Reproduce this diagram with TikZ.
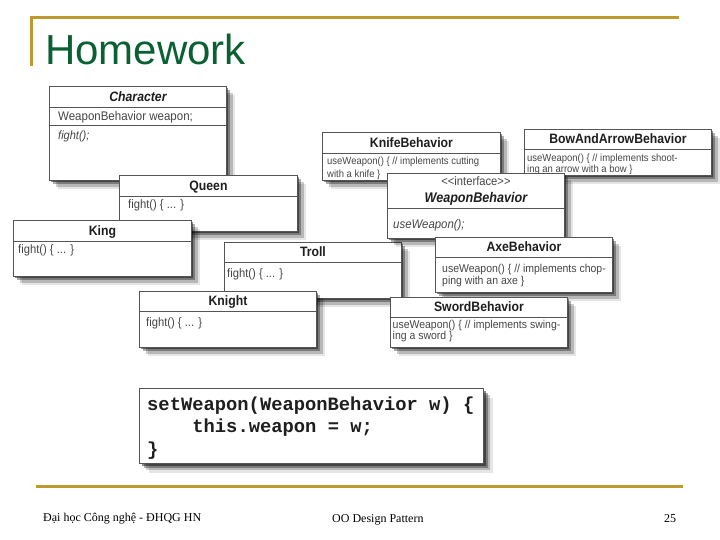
\documentclass[tikz,border=0pt]{standalone}
\usepackage{fontspec}
\setmainfont{Liberation Serif}
\newfontfamily\sansf{Liberation Sans}
\newfontfamily\umlf[FakeStretch=0.92]{Liberation Sans}
\newfontfamily\umlh[FakeStretch=0.9]{Liberation Sans}
\newfontfamily\codef{Liberation Mono}
\usetikzlibrary{shadows}
\definecolor{gold}{RGB}{190,154,46}
\definecolor{titlegreen}{RGB}{10,96,50}
\definecolor{umlborder}{RGB}{85,85,85}
\definecolor{umltext}{RGB}{30,30,30}
\definecolor{umlbody}{RGB}{70,70,70}
\tikzset{
  softshadow/.style={
    drop shadow={shadow xshift=2pt,shadow yshift=-2pt,opacity=.45,fill=black},
    drop shadow={shadow xshift=4pt,shadow yshift=-4pt,opacity=.32,fill=black},
    drop shadow={shadow xshift=6.5pt,shadow yshift=-6.5pt,opacity=.2,fill=black},
    drop shadow={shadow xshift=9pt,shadow yshift=-9pt,opacity=.1,fill=black}},
  umlbox/.style={draw=umlborder, fill=white, line width=0.9pt, inner sep=0pt, anchor=north west, softshadow},
  umlline/.style={draw=umlborder, line width=0.8pt},
  hdr/.style={font=\umlh\bfseries\fontsize{13.6}{15}\selectfont, text=umltext, inner sep=0pt, anchor=base},
  body/.style={font=\umlf\fontsize{12.2}{14}\selectfont, text=umlbody, inner sep=0pt, anchor=base west},
  codebox/.style={draw=umlborder, fill=white, line width=1.2pt, inner sep=0pt, anchor=north west, softshadow},
  codetext/.style={font=\codef\bfseries\fontsize{18.8}{22}\selectfont, text=umltext, inner sep=0pt, anchor=base west},
  goldrule/.style={draw=gold, line width=3pt},
  foot/.style={font=\fontsize{12}{14}\selectfont, text=black, inner sep=0pt, anchor=base west},
}
\newcommand\umlclass[7]{%
  \node[umlbox, minimum width=#4pt, minimum height=#5pt] (#1) at (#2,#3) {};
  \draw[umlline] ([yshift=-#6pt]#1.north west) -- ([yshift=-#6pt]#1.north east);
  \node[hdr] (#1-name) at ([yshift=-#6pt/2-4.8pt]#1.north) {#7};
}
\begin{document}
\begin{tikzpicture}[x=1pt,y=-1pt]
\fill[white] (0,0) rectangle (720,540);
\useasboundingbox (0,0) rectangle (720,540);
% title frame
\coordinate (tl) at (31.5,17.5);
\coordinate (tr) at (679,17.5);
\coordinate (tb) at (31.5,66.5);
\draw[goldrule] (tb) -- (tl) -- (tr);
\node[anchor=base west, inner sep=0pt, font=\sansf\fontsize{42}{48}\selectfont, text=titlegreen] (title) at (45,65) {Homework};
% left group
\umlclass{character}{49}{86}{177}{94}{21}{\itshape Character}
\draw[umlline] ([yshift=-39pt]character.north west) -- ([yshift=-39pt]character.north east);
\node[body, font=\umlf\fontsize{12.5}{14}\selectfont] (character-attr) at ([xshift=9pt,yshift=-34.5pt]character.north west) {WeaponBehavior weapon;};
\node[body, font=\umlf\itshape\fontsize{12}{14}\selectfont] (character-op) at ([xshift=9pt,yshift=-53.5pt]character.north west) {fight();};

\umlclass{queen}{119}{175}{178}{56}{21}{Queen}
\node[body] (queen-op) at ([xshift=9pt,yshift=-33.5pt]queen.north west) {fight() \{ ... \}};

\umlclass{king}{13}{220}{178}{56}{21}{King}
\node[body] (king-op) at ([xshift=5pt,yshift=-34pt]king.north west) {fight() \{ ... \}};

\umlclass{troll}{224}{242}{177}{56}{20}{Troll}
\node[body] (troll-op) at ([xshift=3pt,yshift=-35pt]troll.north west) {fight() \{ ... \}};

\umlclass{knight}{139}{291}{177}{56}{20}{Knight}
\node[body] (knight-op) at ([xshift=7pt,yshift=-35.5pt]knight.north west) {fight() \{ ... \}};

% right group
\umlclass{knife}{322}{132}{178}{48}{21}{KnifeBehavior}
\node[body, font=\umlf\fontsize{10.3}{12}\selectfont] (knife-l1) at ([xshift=5pt,yshift=-32.5pt]knife.north west) {useWeapon() \{ // implements cutting};
\node[body, font=\umlf\fontsize{10.3}{12}\selectfont] (knife-l2) at ([xshift=5pt,yshift=-45.5pt]knife.north west) {with a knife \}};

\umlclass{bow}{524}{129}{187}{46}{20}{BowAndArrowBehavior}
\node[body, font=\umlf\fontsize{10.3}{12}\selectfont] (bow-l1) at ([xshift=3pt,yshift=-32.5pt]bow.north west) {useWeapon() \{ // implements shoot-};
\node[body, font=\umlf\fontsize{10.3}{12}\selectfont] (bow-l2) at ([xshift=3pt,yshift=-44pt]bow.north west) {ing an arrow with a bow \}};

\node[umlbox, minimum width=177pt, minimum height=65pt] (weapon) at (387,173) {};
\draw[umlline] ([yshift=-35pt]weapon.north west) -- ([yshift=-35pt]weapon.north east);
\node[body, anchor=base, font=\umlf\fontsize{12.2}{14}\selectfont] (weapon-stereo) at ([yshift=-12.5pt]weapon.north) {<\kern0pt<interface>\kern0pt>};
\node[hdr, font=\umlh\bfseries\itshape\fontsize{14}{16}\selectfont] (weapon-name) at ([yshift=-30pt]weapon.north) {WeaponBehavior};
\node[body, font=\umlf\itshape\fontsize{12.4}{14}\selectfont] (weapon-op) at ([xshift=6pt,yshift=-55.5pt]weapon.north west) {useWeapon();};

\umlclass{axe}{435}{237}{177}{55}{20}{AxeBehavior}
\node[body, font=\umlf\fontsize{11.4}{13}\selectfont] (axe-l1) at ([xshift=7pt,yshift=-35.5pt]axe.north west) {useWeapon() \{ // implements chop-};
\node[body, font=\umlf\fontsize{11.4}{13}\selectfont] (axe-l2) at ([xshift=7pt,yshift=-47.5pt]axe.north west) {ping with an axe \}};

\umlclass{sword}{390}{297}{177}{50}{20}{SwordBehavior}
\node[body, font=\umlf\fontsize{11.4}{13}\selectfont] (sword-l1) at ([xshift=2.5pt,yshift=-31pt]sword.north west) {useWeapon() \{ // implements swing-};
\node[body, font=\umlf\fontsize{11.4}{13}\selectfont] (sword-l2) at ([xshift=2.5pt,yshift=-42.5pt]sword.north west) {ing a sword \}};

% code box
\node[codebox, minimum width=344pt, minimum height=75pt] (code) at (139,388) {};
\node[codetext] (code-l1) at ([xshift=8pt,yshift=-22pt]code.north west) {setWeapon(WeaponBehavior w) \{};
\node[codetext] (code-l2) at ([xshift=53.2pt,yshift=-44.5pt]code.north west) {this.weapon = w;};
\node[codetext] (code-l3) at ([xshift=8pt,yshift=-67pt]code.north west) {\}};

% footer
\coordinate (bl) at (36,486);
\coordinate (br) at (683,486);
\draw[goldrule] (bl) -- (br);
\node[foot] (foot-left) at (43,521) {Đại học Công nghệ - ĐHQG HN};
\node[foot] (foot-mid) at (332,522) {OO Design Pattern};
\node[foot] (foot-num) at (664,522) {25};
\end{tikzpicture}
\end{document}
